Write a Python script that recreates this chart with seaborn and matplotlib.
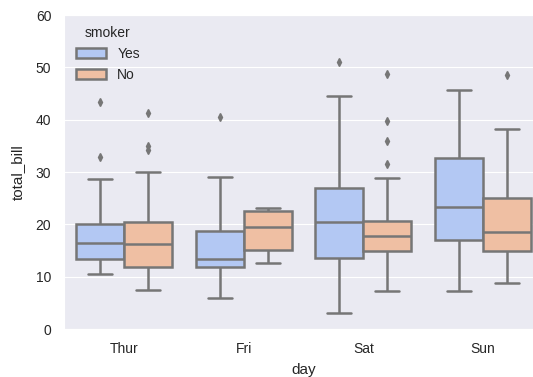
import numpy as np
import pandas as pd
import matplotlib
matplotlib.use('Agg')
import matplotlib.pyplot as plt
import seaborn as sns

# values (box stats per day / smoker)
days = ['Thur', 'Fri', 'Sat', 'Sun']
smoker = ['Yes', 'No']

whisker_low = {'Yes': [10.5, 5.9, 3.1, 7.3], 'No': [7.5, 12.7, 7.3, 8.8]}
q1 = {'Yes': [13.4, 11.9, 13.5, 17.1], 'No': [11.9, 15.1, 15.0, 14.9]}
median = {'Yes': [16.4, 13.4, 20.5, 23.3], 'No': [16.2, 19.5, 17.8, 18.6]}
q3 = {'Yes': [20.0, 18.8, 26.9, 32.7], 'No': [20.4, 22.6, 20.6, 25.0]}
whisker_high = {'Yes': [28.6, 29.0, 44.6, 45.7], 'No': [30.1, 23.1, 28.9, 38.3]}
outliers = {
    'Yes': [[32.9, 43.4], [40.6], [51.1], []],
    'No': [[34.3, 35.0, 41.3], [], [31.5, 36.0, 39.7, 48.7], [48.5]],
}

# build small samples whose quartiles land exactly on the read values
rows = []
for s in smoker:
    for i, d in enumerate(days):
        k = len(outliers[s][i])
        m = k + 1
        vals = ([whisker_low[s][i]] + [q1[s][i]] * m + [median[s][i]] * m
                + [q3[s][i]] * m + [whisker_high[s][i]] * (m - k) + outliers[s][i])
        for v in vals:
            rows.append({'day': d, 'smoker': s, 'total_bill': v})
df = pd.DataFrame(rows)

sns.set_style('darkgrid')
plt.rcParams['font.family'] = ['Liberation Sans', 'DejaVu Sans']

fig = plt.figure(figsize=(5.33, 3.77), dpi=100)
ax = fig.add_axes([0.121, 0.127, 0.897, 0.833])

gray = '#767676'
sns.boxplot(data=df, x='day', y='total_bill', hue='smoker',
            order=days, hue_order=smoker,
            palette=['#b3c8f3', '#efbfa3'], saturation=1,
            linecolor=gray, linewidth=1.8,
            flierprops={'marker': 'd', 'markerfacecolor': gray,
                        'markeredgecolor': gray, 'markersize': 4},
            ax=ax)

ax.set_ylim(0, 60)
ax.set_yticks(range(0, 61, 10))
ax.set_xlim(-0.5, 3.5)
ax.tick_params(labelsize=10, colors='#262626', pad=6)
ax.set_xlabel('day', fontsize=11, labelpad=5)
ax.set_ylabel('total_bill', fontsize=11, labelpad=8)

leg = ax.legend(title='smoker', loc='upper left', frameon=False,
                fontsize=10, title_fontsize=10, handlelength=2.2,
                borderaxespad=0.4)

fig.savefig('out.png', dpi=100)
